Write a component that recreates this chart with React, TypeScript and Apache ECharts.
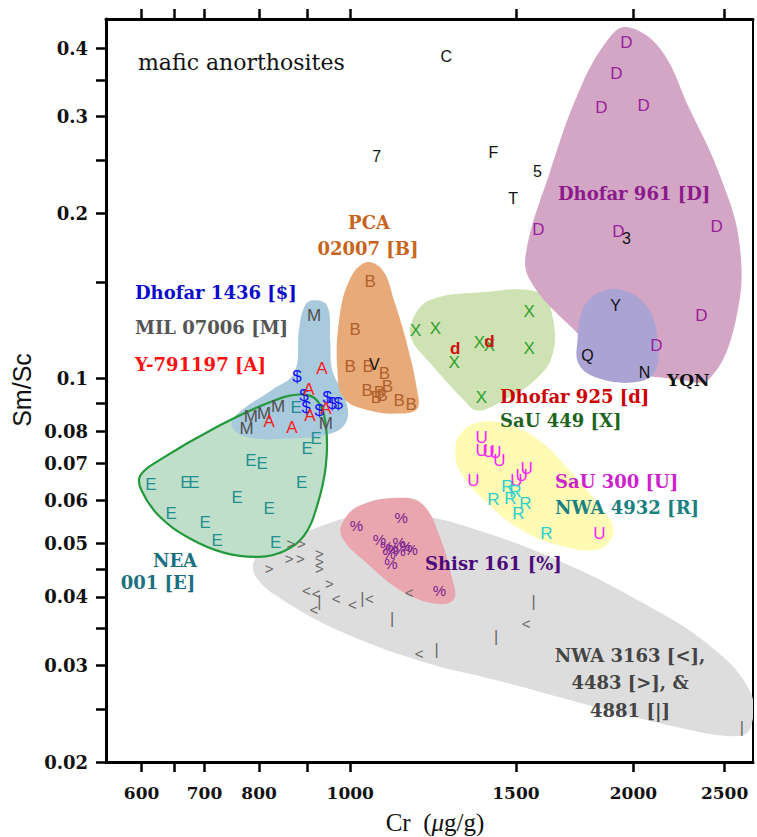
import React, { useEffect, useRef } from 'react';
import * as echarts from 'echarts';

// ---------- axes ----------
const xTickValues = [600, 650, 700, 800, 900, 1000, 1500, 2000, 2500];
const xLabelValues = [600, 700, 800, 1000, 1500, 2000, 2500];
const yTickValues = [0.02, 0.025, 0.03, 0.035, 0.04, 0.045, 0.05, 0.06, 0.07, 0.08, 0.09, 0.1, 0.15, 0.2, 0.25, 0.3, 0.35, 0.4];
const yLabelValues = [0.02, 0.03, 0.04, 0.05, 0.06, 0.07, 0.08, 0.1, 0.2, 0.3, 0.4];

// ---------- points [Cr, Sm/Sc] ----------
const ptsD = [[1966, 0.409], [1918, 0.36], [1849, 0.312], [2050, 0.314], [1585, 0.187], [1928, 0.185], [2452, 0.189], [2362, 0.13], [2116, 0.115]];
const ptsB = [[1050, 0.15], [1012, 0.123], [1000, 0.105], [1045, 0.105], [1087, 0.102], [1042, 0.095], [1095, 0.0967], [1074, 0.0943], [1066, 0.0923], [1081, 0.0931], [1127, 0.0912], [1161, 0.0897]];
const ptsM = [[915, 0.13], [838, 0.0889], [784, 0.0853], [810, 0.0863], [776, 0.081], [942, 0.0827]];
const ptsDollar = [[878, 0.1007], [893, 0.0931], [898, 0.0885], [927, 0.0874], [945, 0.0923], [957, 0.09], [971, 0.09]];
const ptsA = [[933, 0.1043], [904, 0.0956], [942, 0.0881], [906, 0.0856], [867, 0.0814], [820, 0.0834]];
const ptsE = [[876, 0.0885], [920, 0.0777], [900, 0.0746], [784, 0.0709], [806, 0.07], [614, 0.0641], [669, 0.0646], [682, 0.0646], [758, 0.0606], [820, 0.058], [888, 0.0646], [645, 0.0567], [701, 0.0546], [722, 0.0506], [833, 0.0502]];
const ptsPct = [[1015, 0.0539], [1133, 0.0557], [1074, 0.0508], [1093, 0.0494], [1108, 0.049], [1127, 0.0502], [1146, 0.0494], [1161, 0.0488], [1100, 0.0479], [1127, 0.0485], [1105, 0.0461], [1244, 0.041]];
const ptsGt = [[865, 0.05], [887, 0.05], [861, 0.0469], [885, 0.0469], [927, 0.0479], [927, 0.0463], [927, 0.045], [820, 0.045], [950, 0.0423]];
const ptsLt = [[898, 0.041], [920, 0.0405], [966, 0.0397], [1005, 0.0388], [1048, 0.0397], [915, 0.038], [1155, 0.0407], [1538, 0.0358], [1184, 0.0315]];
const ptsBar = [[927, 0.0393], [1030, 0.0397], [1108, 0.0365], [1429, 0.0339], [1566, 0.0393], [1235, 0.0321], [2607, 0.0231]];
const ptsX = [[1174, 0.1224], [1232, 0.1234], [1290, 0.107], [1372, 0.1163], [1406, 0.1149], [1550, 0.1325], [1550, 0.1135], [1379, 0.0923]];
const ptsd = [[1293, 0.1135], [1406, 0.1168]];
const ptsU = [[1379, 0.0781], [1379, 0.0739], [1403, 0.0737], [1427, 0.0733], [1441, 0.0709], [1352, 0.0652], [1502, 0.0652], [1521, 0.0665], [1540, 0.0684], [1840, 0.0521]];
const ptsR = [[1469, 0.0636], [1498, 0.0622], [1420, 0.0602], [1480, 0.0604], [1535, 0.0591], [1509, 0.0567], [1616, 0.0522]];
const otherChars = ['C', '7', 'F', '5', 'T', '3', 'Y', 'Q', 'N', 'V'];
const otherCr = [1265, 1067, 1420, 1581, 1490, 1966, 1914, 1787, 2055, 1061];
const otherSmSc = [0.386, 0.254, 0.258, 0.238, 0.213, 0.18, 0.136, 0.11, 0.1025, 0.106];

// ---------- field outlines [Cr, Sm/Sc] ----------
const regionD = [[1966, 0.437], [2132, 0.4], [2294, 0.31], [2470, 0.235], [2594, 0.175], [2570, 0.128], [2410, 0.1], [2239, 0.0995], [1933, 0.105], [1710, 0.125], [1550, 0.152], [1540, 0.172], [1628, 0.236], [1752, 0.335], [1880, 0.415]];
const regionB = [[1040, 0.1628], [1083, 0.1574], [1113, 0.1388], [1150, 0.1149], [1178, 0.0951], [1178, 0.0881], [1127, 0.0863], [1048, 0.0874], [985, 0.0919], [969, 0.1034], [973, 0.1276], [998, 0.151]];
const regionBlue = [[911, 0.1388], [945, 0.1357], [952, 0.1173], [957, 0.1034], [985, 0.0931], [993, 0.0845], [961, 0.0797], [861, 0.0777], [772, 0.0784], [748, 0.0825], [766, 0.0874], [824, 0.0951], [872, 0.1025], [882, 0.1224], [893, 0.1347]];
const regionE = [[882, 0.0935], [922, 0.0912], [942, 0.0821], [942, 0.0694], [922, 0.0586], [893, 0.0517], [851, 0.0485], [800, 0.0473], [735, 0.0481], [674, 0.0512], [626, 0.0562], [600, 0.0625], [598, 0.0665], [626, 0.0709], [726, 0.0821], [820, 0.0904]];
const regionPct = [[978, 0.0539], [1022, 0.0586], [1141, 0.0606], [1198, 0.0586], [1244, 0.0517], [1281, 0.0437], [1290, 0.0397], [1244, 0.0388], [1141, 0.0407], [1035, 0.0465], [985, 0.0506]];
const regionGray = [[790, 0.0465], [820, 0.0489], [904, 0.0528], [1022, 0.0562], [1184, 0.0562], [1372, 0.0528], [1669, 0.0465], [2030, 0.0393], [2410, 0.0326], [2658, 0.027], [2670, 0.0233], [2594, 0.0223], [2239, 0.0231], [1840, 0.0251], [1441, 0.0281], [1184, 0.0306], [973, 0.0347], [851, 0.0393], [796, 0.0432]];
const regionX = [[1164, 0.1276], [1214, 0.1388], [1372, 0.1435], [1589, 0.1435], [1640, 0.1303], [1640, 0.1102], [1570, 0.0992], [1441, 0.0904], [1365, 0.0874], [1322, 0.0912], [1214, 0.107], [1161, 0.1183]];
const regionYQN = [[1744, 0.1173], [1774, 0.1357], [1863, 0.1447], [1981, 0.1435], [2080, 0.1331], [2121, 0.1173], [2106, 0.1025], [2005, 0.0984], [1840, 0.1], [1752, 0.1057]];
const regionU = [[1306, 0.0787], [1365, 0.0831], [1458, 0.0828], [1589, 0.0771], [1710, 0.068], [1840, 0.0586], [1905, 0.0528], [1840, 0.0489], [1669, 0.0496], [1513, 0.0532], [1389, 0.0599], [1306, 0.068], [1293, 0.0739]];

const SANS = 'Liberation Sans, Arial, sans-serif';
const SERIF_B = 'DejaVu Serif, serif';

function regionSeries(name: string, pts: number[][], z: number, fill: string, stroke?: string, lw?: number) {
  return {
    type: 'custom',
    name,
    data: pts,
    z,
    silent: true,
    clip: true,
    renderItem: (params: any, api: any) => {
      if (params.dataIndex !== 0) return null;
      const points = pts.map((p) => api.coord(p));
      return {
        type: 'polygon',
        shape: { points, smooth: 0.4 },
        style: { fill, stroke: stroke || 'none', lineWidth: lw || 0 },
      };
    },
  };
}

function textSeries(name: string, chars: string | string[], color: string, pts: number[][], size: number, weight = 'normal') {
  return {
    type: 'custom',
    name,
    data: pts,
    z: 20,
    silent: true,
    renderItem: (params: any, api: any) => {
      const p = api.coord([api.value(0), api.value(1)]);
      const t = typeof chars === 'string' ? chars : chars[params.dataIndex];
      return {
        type: 'text',
        x: p[0],
        y: p[1],
        style: {
          text: t,
          fill: color,
          fontSize: size,
          fontWeight: weight,
          fontFamily: SANS,
          align: 'center',
          verticalAlign: 'middle',
          textAlign: 'center',
          textVerticalAlign: 'middle',
        },
      };
    },
  };
}

function label(text: string, x: number, y: number, color: string, align = 'left', size = 18) {
  return {
    type: 'text',
    x,
    y,
    z: 50,
    silent: true,
    style: {
      text,
      fill: color,
      fontSize: size,
      fontWeight: 'bold',
      fontFamily: SERIF_B,
      align,
      verticalAlign: 'middle',
      textAlign: align,
      textVerticalAlign: 'middle',
    },
  };
}

export default function App() {
  const ref = useRef<HTMLDivElement>(null);
  useEffect(() => {
    document.body.style.margin = '0';
    const chart = echarts.init(ref.current!, null, { renderer: 'svg' });
    const axisFont = { color: '#111', fontFamily: SERIF_B, fontWeight: 'bold' as const };
    const xBase = {
      type: 'log',
      logBase: 10,
      min: 550,
      max: 2680,
      splitLine: { show: false },
      axisLine: { show: true, onZero: false, lineStyle: { color: '#000', width: 3 } },
      axisTick: { show: true, inside: false, customValues: xTickValues, length: 10, lineStyle: { color: '#000', width: 2.5 } },
    };
    const yBase = {
      type: 'log',
      logBase: 10,
      min: 0.02,
      max: 0.452,
      splitLine: { show: false },
      axisLine: { show: true, onZero: false, lineStyle: { color: '#000', width: 3 } },
      axisTick: { show: true, inside: false, customValues: yTickValues, length: 10, lineStyle: { color: '#000', width: 2.5 } },
    };
    const otherPts = otherCr.map((c, i) => [c, otherSmSc[i]]);
    chart.setOption({
      animation: false,
      backgroundColor: '#fff',
      grid: { left: 106, right: 4, top: 19, bottom: 75, containLabel: false },
      xAxis: [
        {
          ...xBase,
          position: 'bottom',
          axisLabel: { show: true, customValues: xLabelValues, formatter: (v: number) => String(v), fontSize: 17, margin: 22, ...axisFont },
        },
        {
          ...xBase,
          position: 'top',
          axisLabel: { show: false },
        },
      ],
      yAxis: [
        {
          ...yBase,
          position: 'left',
          axisLabel: { show: true, customValues: yLabelValues, formatter: (v: number) => String(v), fontSize: 18, margin: 18, ...axisFont },
        },
        {
          ...yBase,
          position: 'right',
          axisLine: { show: true, onZero: false, lineStyle: { color: '#000', width: 2 } },
          axisTick: { show: false },
          axisLabel: { show: false },
        },
      ],
      series: [
        regionSeries('NWA 3163/4483/4881', regionGray, 1, '#DDDDDD'),
        regionSeries('NEA 001 fill', regionE, 2, '#BFDFCB'),
        regionSeries('Shisr 161', regionPct, 3, '#E9A6AE'),
        regionSeries('Dhofar 1436 / MIL 07006 / Y-791197', regionBlue, 4, '#A9C9DD'),
        regionSeries('NEA 001 outline', regionE, 5, 'none', '#23993B', 2.2),
        regionSeries('PCA 02007', regionB, 4, '#E9AA7A'),
        regionSeries('SaU 449', regionX, 4, '#CFE2B3'),
        regionSeries('Dhofar 961', regionD, 4, '#D3A6C6'),
        regionSeries('YQN', regionYQN, 6, '#ABA3D3'),
        regionSeries('SaU 300 / NWA 4932', regionU, 4, '#FFFBB5'),
        textSeries('>', '>', '#666', ptsGt, 15),
        textSeries('<', '<', '#666', ptsLt, 15),
        textSeries('|', '|', '#666', ptsBar, 16),
        textSeries('E', 'E', '#1F8F8F', ptsE, 17),
        textSeries('%', '%', '#7A2190', ptsPct, 15),
        textSeries('M', 'M', '#505050', ptsM, 17),
        textSeries('$', '$', '#1010FF', ptsDollar, 17),
        textSeries('A', 'A', '#FF1A1A', ptsA, 17),
        textSeries('B', 'B', '#B0602A', ptsB, 17),
        textSeries('X', 'X', '#2FA02F', ptsX, 17),
        textSeries('d', 'd', '#D01010', ptsd, 17, 'bold'),
        textSeries('U', 'U', '#FF22FF', ptsU, 17),
        textSeries('R', 'R', '#2ACFCF', ptsR, 17),
        textSeries('D', 'D', '#9A1F9A', ptsD, 17),
        textSeries('other', otherChars, '#111', otherPts, 16),
      ],
      graphic: [
        {
          type: 'text', x: 138, y: 62, z: 50, silent: true,
          style: { text: 'mafic anorthosites', fill: '#111', fontSize: 22, fontFamily: 'DejaVu Serif, serif', fontWeight: 'normal', align: 'left', verticalAlign: 'middle', textAlign: 'left', textVerticalAlign: 'middle' },
        },
        label('Dhofar 961 [D]', 558, 193, '#8B1A8B'),
        label('PCA', 369, 222, '#C8641E', 'center'),
        label('02007 [B]', 368, 248, '#C8641E', 'center'),
        label('Dhofar 1436 [$]', 135, 292, '#0A0ACC'),
        label('MIL 07006 [M]', 135, 327, '#555555'),
        label('Y-791197 [A]', 135, 364, '#FF1010'),
        label('Dhofar 925 [d]', 500, 396, '#CC0000'),
        label('SaU 449 [X]', 500, 420, '#1E641E'),
        label('YQN', 667, 380, '#111111', 'left', 17),
        label('SaU 300 [U]', 555, 481, '#CC22CC'),
        label('NWA 4932 [R]', 555, 507, '#1A8080'),
        label('NEA', 175, 560, '#1A7080', 'center'),
        label('001 [E]', 158, 582, '#1A7080', 'center'),
        label('Shisr 161 [%]', 425, 563, '#4B0A7A'),
        label('NWA 3163 [<],', 630, 655, '#444444', 'center'),
        label('4483 [>], &', 630, 682, '#444444', 'center'),
        label('4881 [|]', 630, 710, '#444444', 'center'),
        {
          type: 'text', x: 22, y: 390, rotation: Math.PI / 2, z: 50, silent: true,
          style: { text: 'Sm/Sc', fill: '#111', fontSize: 25, fontFamily: SANS, align: 'center', verticalAlign: 'middle', textAlign: 'center', textVerticalAlign: 'middle' },
        },
        {
          type: 'text', x: 435, y: 822, z: 50, silent: true,
          style: {
            text: 'Cr  ({i|μ}g/g)', fill: '#111', fontSize: 25, fontFamily: 'Liberation Serif, serif',
            align: 'center', verticalAlign: 'middle', textAlign: 'center', textVerticalAlign: 'middle',
            rich: { i: { fontStyle: 'italic', fontSize: 25, fontFamily: 'Liberation Serif, serif', fill: '#111' } },
          },
        },
      ],
    });
    return () => chart.dispose();
  }, []);
  return <div ref={ref} style={{ width: 757, height: 837 }} />;
}
